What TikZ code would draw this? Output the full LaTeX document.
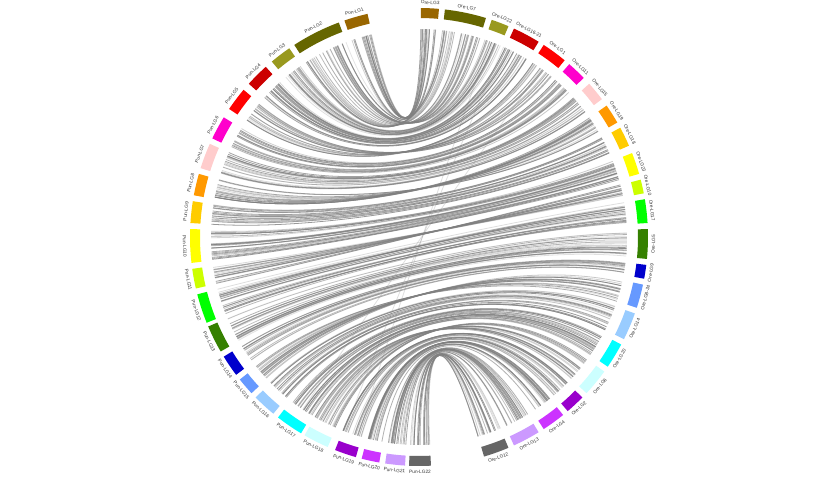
\documentclass[tikz,border=0pt]{standalone}
\usepackage{fontspec}
\setsansfont{Liberation Sans}
\usetikzlibrary{calc}

% ideogram colours
\definecolor{lgc1}{RGB}{153,102,0}
\definecolor{lgc2}{RGB}{102,102,0}
\definecolor{lgc3}{RGB}{153,153,30}
\definecolor{lgc4}{RGB}{204,0,0}
\definecolor{lgc5}{RGB}{255,0,0}
\definecolor{lgc6}{RGB}{255,0,204}
\definecolor{lgc7}{RGB}{255,204,204}
\definecolor{lgc8}{RGB}{255,153,0}
\definecolor{lgc9}{RGB}{255,204,0}
\definecolor{lgc10}{RGB}{255,255,0}
\definecolor{lgc11}{RGB}{204,255,0}
\definecolor{lgc12}{RGB}{0,255,0}
\definecolor{lgc13}{RGB}{53,128,0}
\definecolor{lgc14}{RGB}{0,0,204}
\definecolor{lgc15}{RGB}{102,153,255}
\definecolor{lgc16}{RGB}{153,204,255}
\definecolor{lgc17}{RGB}{0,255,255}
\definecolor{lgc18}{RGB}{204,255,255}
\definecolor{lgc19}{RGB}{153,0,204}
\definecolor{lgc20}{RGB}{204,51,255}
\definecolor{lgc21}{RGB}{204,153,255}
\definecolor{lgc22}{RGB}{102,102,102}

\begin{document}
\begin{tikzpicture}[
    x=0.02cm, y=0.02cm,
    link/.style={draw=black!50, line width=0.45pt},
    lglabel/.style={font=\sffamily\fontsize{2.7}{3}\selectfont, inner sep=0pt, text=black!80}
]
\useasboundingbox[fill=white] (0,0) rectangle (840,477);
\begin{scope}[shift={(419,240)}]

% synteny links (Pun start/end, Ore start/end, count, orientation)
\pgfmathsetseed{21}
\foreach \pa/\pb/\oa/\ob/\n/\rv in {
    341/347/0.5/5/18/1, 327/339.5/6.5/17/34/0, 320/325.5/18.5/23/18/1,
    312/318/24.5/31.5/24/1, 304/310/33/39.5/22/0, 295.5/301.5/41/46/20/1,
    287.5/294/48/53/20/1, 280.5/286/55/60/19/0, 273.5/279/61.5/66.5/19/1,
    263.5/272/68.5/74/27/1, 257/262/75.5/79/16/0, 248/255.5/80.5/86.5/24/1,
    240/247/88/95.5/24/1, 233/238.5/97/100.5/16/1, 227/231.5/102/108/18/0,
    219.5/225.5/109.5/116.5/22/1, 211/218/118/124.5/24/1, 203.5/210/126/133/22/0,
    196/201.5/134.5/139.5/19/1, 190/194.5/141/147/18/1, 183.5/188.5/148.5/155.5/19/1,
    177/182.5/157/163.5/18/1}{
  \foreach \i in {1,...,\n}{
    \pgfmathsetmacro\u{rnd}
    \pgfmathsetmacro\v{min(1,max(0,abs(\rv-\u)+0.12*rand))}
    \pgfmathsetmacro\aP{90-\pa-\u*(\pb-\pa)}
    \pgfmathsetmacro\aO{90-\oa-\v*(\ob-\oa)}
    \pgfmathsetmacro\op{0.2+0.6*rnd}
    \draw[link, draw opacity=\op] (\aP:208) .. controls (\aP:92) and (\aO:92) .. (\aO:208);
  }
}
% a few stray links
\foreach \pp/\oo in {197/20, 201/24, 214/36}{
  \draw[link, draw opacity=0.25] (90-\pp:208) .. controls (90-\pp:92) and (90-\oo:92) .. (90-\oo:208);
}

% Pun ideograms
\foreach \k/\ta/\tb in {1/341/347, 2/327/339.5, 3/320/325.5, 4/312/318, 5/304/310,
    6/295.5/301.5, 7/287.5/294, 8/280.5/286, 9/273.5/279, 10/263.5/272, 11/257/262,
    12/248/255.5, 13/240/247, 14/233/238.5, 15/227/231.5, 16/219.5/225.5, 17/211/218,
    18/203.5/210, 19/196/201.5, 20/190/194.5, 21/183.5/188.5, 22/177/182.5}{
  \pgfmathsetmacro\sa{90-\ta}
  \pgfmathsetmacro\sb{90-\tb}
  \pgfmathsetmacro\m{(\ta+\tb)/2}
  \pgfmathsetmacro\rot{\m<270 ? 180-\m : 360-\m}
  \fill[lgc\k] (\sa:219) arc[start angle=\sa, end angle=\sb, radius=219]
    -- (\sb:229) arc[start angle=\sb, end angle=\sa, radius=229] -- cycle;
  \node[lglabel, rotate=\rot] (pun\k) at (90-\m:234.5) {Pun-LG\k};
}

% Ore ideograms
\foreach \k/\nm/\ta/\tb in {1/3/0.5/5, 2/7/6.5/17, 3/22/18.5/23, 4/16-21/24.5/31.5,
    5/1/33/39.5, 6/11/41/46, 7/15/48/53, 8/19/55/60, 9/18/61.5/66.5, 10/23/68.5/74,
    11/10/75.5/79, 12/17/80.5/86.5, 13/5/88/95.5, 14/9/97/100.5, 15/8-24/102/108,
    16/14/109.5/116.5, 17/20/118/124.5, 18/6/126/133, 19/2/134.5/139.5, 20/4/141/147,
    21/13/148.5/155.5, 22/12/157/163.5}{
  \pgfmathsetmacro\sa{90-\ta}
  \pgfmathsetmacro\sb{90-\tb}
  \pgfmathsetmacro\m{(\ta+\tb)/2}
  \pgfmathsetmacro\rot{\m>90 ? 180-\m : -\m}
  \fill[lgc\k] (\sa:219) arc[start angle=\sa, end angle=\sb, radius=219]
    -- (\sb:229) arc[start angle=\sb, end angle=\sa, radius=229] -- cycle;
  \node[lglabel, rotate=\rot] (ore\k) at (90-\m:234.5) {Ore-LG\nm};
}
\end{scope}
\end{tikzpicture}
\end{document}
